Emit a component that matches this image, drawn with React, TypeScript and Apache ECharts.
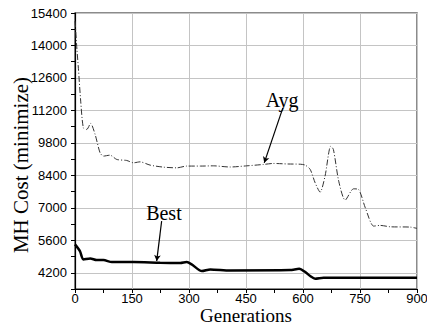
import React, { useEffect, useRef } from "react";
import * as echarts from "echarts";

const avgGen = [0, 2, 5, 9, 15, 22, 31, 41, 53, 66, 75, 92, 110, 136, 154, 171, 198, 233, 268, 294, 330, 364, 408, 452, 496, 522, 560, 593, 606, 619, 632, 645, 658, 673, 680, 694, 711, 733, 746, 764, 786, 803, 830, 882, 900];
const avgCost = [15050, 14600, 13850, 13000, 11600, 10450, 10380, 10640, 10160, 9370, 9230, 9270, 9085, 9042, 8940, 8982, 8840, 8754, 8724, 8800, 8800, 8810, 8760, 8810, 8870, 8913, 8890, 8880, 8840, 8654, 8077, 7677, 8366, 9658, 9516, 8150, 7332, 7819, 7793, 7000, 6212, 6242, 6182, 6169, 6113];

const bestGen = [0, 13, 22, 40, 57, 75, 97, 154, 224, 277, 294, 307, 334, 356, 408, 566, 590, 606, 619, 632, 654, 900];
const bestCost = [5423, 5135, 4777, 4820, 4747, 4747, 4661, 4661, 4631, 4620, 4661, 4562, 4273, 4346, 4302, 4316, 4370, 4230, 4058, 3942, 3985, 3985];

const xTicks = [0, 150, 300, 450, 600, 750, 900];
const yTicks = [4200, 5600, 7000, 8400, 9800, 11200, 12600, 14000, 15400];

const avgLabel = { text: "Ayg", at: [545, 11640], from: [547, 11308], to: [498, 8939] };
const bestLabel = { text: "Best", at: [234, 6772], from: [228, 6427], to: [215, 4704] };

const serif = "'Liberation Serif', 'Times New Roman', serif";
const sans = "'Liberation Sans', Arial, sans-serif";

export default function App() {
  const ref = useRef<HTMLDivElement>(null);
  useEffect(() => {
    if (!ref.current) return;
    const chart = echarts.init(ref.current, null, { renderer: "svg" });
    const annot = (a: typeof avgLabel) => ({
      markPoint: {
        silent: true,
        symbol: "circle",
        symbolSize: 0,
        data: [{ coord: a.at, label: { show: true, position: "inside", formatter: a.text, fontFamily: serif, fontSize: 20, color: "#000" } }],
      },
      markLine: {
        silent: true,
        symbol: ["none", "arrow"],
        symbolSize: [5, 6],
        label: { show: false },
        lineStyle: { color: "#000", width: 1.2, type: "solid" },
        data: [[{ coord: a.from }, { coord: a.to }]],
      },
    });
    chart.setOption({
      animation: false,
      backgroundColor: "#fff",
      grid: { left: 75, right: 10, top: 13, bottom: 46, outerBoundsMode: "none", containLabel: false, show: true, borderColor: "#666", borderWidth: 1.5, backgroundColor: "transparent" },
      xAxis: {
        type: "value",
        min: 0,
        max: 900,
        interval: 150,
        name: "Generations",
        nameLocation: "middle",
        nameGap: 20,
        nameMoveOverlap: false,
        nameTextStyle: { fontFamily: serif, fontSize: 19, lineHeight: 13, color: "#000" },
        axisLine: { show: true, lineStyle: { color: "#000", width: 1.2 } },
        axisTick: { show: true, length: 4, lineStyle: { color: "#000" } },
        minorTick: { show: true, splitNumber: 2, length: 4, lineStyle: { color: "#000" } },
        axisLabel: { fontFamily: sans, fontSize: 13, lineHeight: 12, color: "#000", margin: 3, formatter: (v: number) => (xTicks.includes(v) ? String(v) : "") },
        splitLine: { show: true, lineStyle: { color: "#c4c4c4", width: 1 } },
      },
      yAxis: {
        type: "value",
        min: 3500,
        max: 15400,
        interval: 700,
        name: "MH Cost (minimize)",
        nameLocation: "middle",
        nameGap: 44,
        nameMoveOverlap: false,
        nameTextStyle: { fontFamily: serif, fontSize: 21, color: "#000", padding: [0, 28, 0, 0] },
        axisLine: { show: true, lineStyle: { color: "#000", width: 1.2 } },
        axisTick: { show: true, length: 4, lineStyle: { color: "#000" } },
        axisLabel: { fontFamily: sans, fontSize: 13, color: "#000", margin: 8, formatter: (v: number) => (yTicks.includes(v) ? String(v) : "") },
        splitLine: { show: true, lineStyle: { color: ["transparent", "#c4c4c4"], width: 1 } },
      },
      series: [
        {
          type: "line",
          name: "Avg",
          data: avgGen.map((g, i) => [g, avgCost[i]]),
          showSymbol: false,
          smooth: 0.25,
          lineStyle: { color: "#333", width: 1, type: [6, 2, 1, 2] },
          ...annot(avgLabel),
        },
        {
          type: "line",
          name: "Best",
          data: bestGen.map((g, i) => [g, bestCost[i]]),
          showSymbol: false,
          smooth: 0.25,
          lineStyle: { color: "#000", width: 2.5 },
          ...annot(bestLabel),
        },
      ],
    });
    return () => chart.dispose();
  }, []);
  return <div ref={ref} style={{ position: "absolute", left: 0, top: 0, width: 427, height: 335 }} />;
}
